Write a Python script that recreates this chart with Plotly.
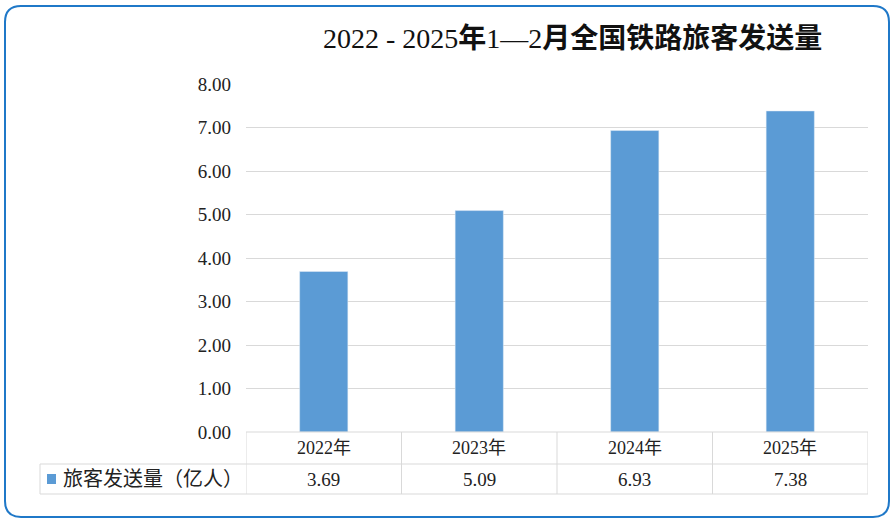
import plotly.graph_objects as go

categories = ["2022年", "2023年", "2024年", "2025年"]
values = [3.69, 5.09, 6.93, 7.38]
value_labels = ["3.69", "5.09", "6.93", "7.38"]
series_name = "旅客发送量（亿人）"
title_text = "2022 - 2025<b>年</b>1—2<b>月全国铁路旅客发送量</b>"
y_ticks = [0, 1, 2, 3, 4, 5, 6, 7, 8]

W, H = 895, 527
BAR_COLOR = "#5B9BD5"
GRID = "#D9D9D9"
BORDER = "#1F78C8"
SERIF = "Liberation Serif, Times New Roman, Noto Sans CJK SC, serif"

def px_x(x):
    return x / W

def px_y(y):
    return 1 - y / H

plot_l, plot_r, plot_t, plot_b = 246, 868, 84, 432
row1_b, row2_b = 464, 494

fig = go.Figure()
fig.add_trace(go.Bar(x=list(range(len(categories))), y=values, marker_color=BAR_COLOR,
                     width=0.31, name=series_name, showlegend=False, hoverinfo="x+y"))

shapes = []
x0, y0, x1, y1, r = 5, 6, 889, 517, 16
pts = [("M", [(x0 + r, y0)]), ("L", [(x1 - r, y0)]), ("Q", [(x1, y0), (x1, y0 + r)]),
       ("L", [(x1, y1 - r)]), ("Q", [(x1, y1), (x1 - r, y1)]), ("L", [(x0 + r, y1)]),
       ("Q", [(x0, y1), (x0, y1 - r)]), ("L", [(x0, y0 + r)]), ("Q", [(x0, y0), (x0 + r, y0)])]
path = " ".join(cmd + " " + " ".join(f"{px_x(a):.5f},{px_y(b):.5f}" for a, b in p) for cmd, p in pts) + " Z"
shapes.append(dict(type="path", xref="paper", yref="paper", path=path,
                   line=dict(color=BORDER, width=2), layer="above"))

line = dict(color=GRID, width=1)
n = len(categories)
for yy in [plot_b, row1_b, row2_b]:
    shapes.append(dict(type="line", xref="x", yref="paper", x0=-0.5, x1=n - 0.5,
                       y0=px_y(yy), y1=px_y(yy), line=line))
for yy in [row1_b, row2_b]:
    shapes.append(dict(type="line", xref="paper", yref="paper", x0=px_x(40), x1=px_x(plot_l),
                       y0=px_y(yy), y1=px_y(yy), line=line))
shapes.append(dict(type="line", xref="paper", yref="paper", x0=px_x(40), x1=px_x(40),
                   y0=px_y(row1_b), y1=px_y(row2_b), line=line))
for i in range(n + 1):
    shapes.append(dict(type="line", xref="x", yref="paper", x0=i - 0.5, x1=i - 0.5,
                       y0=px_y(plot_b), y1=px_y(row2_b), line=line))
shapes.append(dict(type="rect", xref="paper", yref="paper", x0=px_x(47), x1=px_x(56),
                   y0=px_y(484), y1=px_y(474), fillcolor=BAR_COLOR, line=dict(width=0)))

annotations = []
annotations.append(dict(text=title_text, xref="paper", yref="paper", x=px_x(572), y=px_y(38),
                        showarrow=False, xanchor="center", yanchor="middle",
                        font=dict(family=SERIF, size=28, color="#111111")))
for i, (c, v) in enumerate(zip(categories, value_labels)):
    annotations.append(dict(text=c, xref="x", yref="paper", x=i, y=px_y((plot_b + row1_b) / 2),
                            showarrow=False, xanchor="center", yanchor="middle",
                            font=dict(family=SERIF, size=18, color="#222222")))
    annotations.append(dict(text=v, xref="x", yref="paper", x=i, y=px_y((row1_b + row2_b) / 2),
                            showarrow=False, xanchor="center", yanchor="middle",
                            font=dict(family=SERIF, size=19, color="#222222")))
annotations.append(dict(text=series_name, xref="paper", yref="paper", x=px_x(61),
                        y=px_y((row1_b + row2_b) / 2), showarrow=False, xanchor="left",
                        yanchor="middle", font=dict(family=SERIF, size=20, color="#222222")))

fig.update_layout(
    width=W, height=H, autosize=False,
    margin=dict(l=0, r=0, t=0, b=0, pad=0),
    paper_bgcolor="white", plot_bgcolor="white",
    showlegend=False,
    xaxis=dict(domain=[px_x(plot_l), px_x(plot_r)], range=[-0.5, n - 0.5], automargin=False,
               showticklabels=False, showgrid=False, zeroline=False, showline=False, fixedrange=True),
    yaxis=dict(domain=[px_y(plot_b), px_y(plot_t)], range=[0, 8], tickvals=y_ticks, automargin=False,
               tickformat=".2f", showgrid=True, gridcolor=GRID, gridwidth=1,
               zeroline=False, showline=False, ticks="", ticklabelstandoff=14,
               tickfont=dict(family=SERIF, size=19, color="#222222"), fixedrange=True),
    shapes=shapes, annotations=annotations,
)

fig.write_html("out.html", config={"displayModeBar": False},
               post_script="document.body.style.margin='0';document.body.style.padding='0';")
